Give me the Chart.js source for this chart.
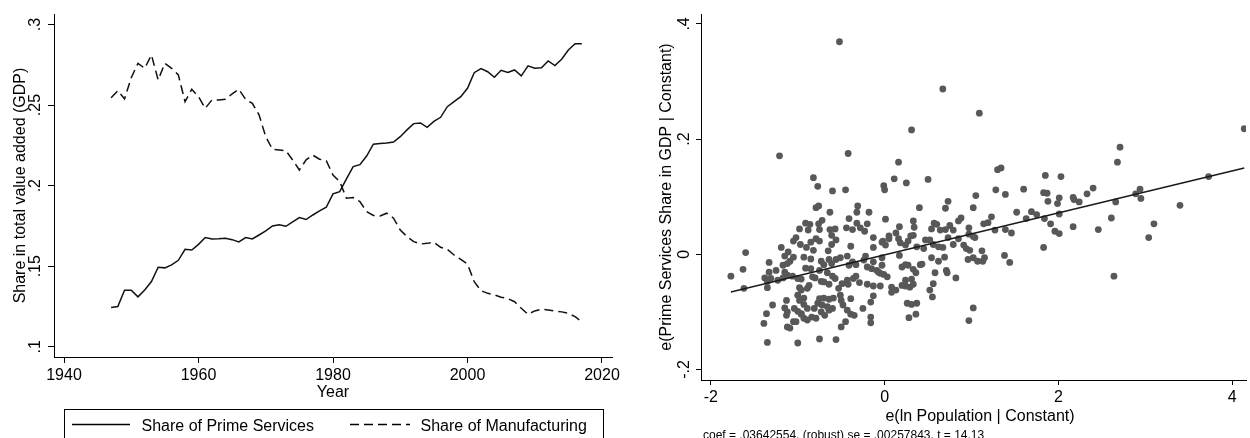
<!doctype html>
<html lang="en">
<head>
<meta charset="UTF-8"/>
<title>Prime services and manufacturing shares</title>
<script src="https://cdn.jsdelivr.net/npm/chart.js@4.4.0/dist/chart.umd.min.js"></script>
<style>
  html, body { margin: 0; padding: 0; background: #fff; }
  #wrap { position: relative; width: 1250px; height: 438px; overflow: hidden; }
  canvas { position: absolute; top: 0; }
  #sharesChart { left: 0; }
  #avplotChart { left: 625px; }
</style>
</head>
<body>
<div id="wrap">
  <canvas id="sharesChart" width="625" height="438"></canvas>
  <canvas id="avplotChart" width="625" height="438"></canvas>
</div>
<script>
// ---- left panel: value added shares over time ----
const years = [
  1947, 1948, 1949, 1950, 1951, 1952, 1953, 1954, 1955, 1956,
  1957, 1958, 1959, 1960, 1961, 1962, 1963, 1964, 1965, 1966,
  1967, 1968, 1969, 1970, 1971, 1972, 1973, 1974, 1975, 1976,
  1977, 1978, 1979, 1980, 1981, 1982, 1983, 1984, 1985, 1986,
  1987, 1988, 1989, 1990, 1991, 1992, 1993, 1994, 1995, 1996,
  1997, 1998, 1999, 2000, 2001, 2002, 2003, 2004, 2005, 2006,
  2007, 2008, 2009, 2010, 2011, 2012, 2013, 2014, 2015, 2016,
  2017
];
const primeShare = [
  0.1244, 0.1250, 0.1351, 0.1351, 0.1310, 0.1353, 0.1405, 0.1494, 0.1490, 0.1508,
  0.1537, 0.1605, 0.1601, 0.1636, 0.1678, 0.1669, 0.1671, 0.1674, 0.1665, 0.1651,
  0.1678, 0.1669, 0.1694, 0.1719, 0.1750, 0.1758, 0.1748, 0.1775, 0.1802, 0.1790,
  0.1818, 0.1843, 0.1866, 0.1949, 0.1963, 0.2042, 0.2118, 0.2130, 0.2184, 0.2257,
  0.2261, 0.2265, 0.2271, 0.2304, 0.2346, 0.2385, 0.2389, 0.2362, 0.2399, 0.2424,
  0.2490, 0.2521, 0.2552, 0.2604, 0.2701, 0.2726, 0.2707, 0.2672, 0.2716, 0.2703,
  0.2718, 0.2681, 0.2743, 0.2728, 0.2732, 0.2774, 0.2745, 0.2784, 0.2842, 0.2881,
  0.2881
];
const manufShare = [
  0.2546, 0.2589, 0.2538, 0.2670, 0.2759, 0.2728, 0.2811, 0.2656, 0.2759, 0.2728,
  0.2687, 0.2521, 0.2598, 0.2552, 0.2480, 0.2532, 0.2532, 0.2536, 0.2569, 0.2598,
  0.2536, 0.2511, 0.2439, 0.2304, 0.2225, 0.2221, 0.2217, 0.2159, 0.2097, 0.2160,
  0.2189, 0.2164, 0.2155, 0.2066, 0.2025, 0.1922, 0.1926, 0.1901, 0.1839, 0.1815,
  0.1812, 0.1829, 0.1798, 0.1725, 0.1684, 0.1653, 0.1638, 0.1642, 0.1649, 0.1618,
  0.1605, 0.1570, 0.1543, 0.1514, 0.1404, 0.1349, 0.1332, 0.1322, 0.1308, 0.1299,
  0.1280, 0.1239, 0.1202, 0.1223, 0.1233, 0.1229, 0.1223, 0.1217, 0.1208, 0.1187,
  0.1156
];
const yearTicks = [1940, 1960, 1980, 2000, 2020];
const yearTickLabels = ['1940', '1960', '1980', '2000', '2020'];
const shareTicks = [0.1, 0.15, 0.2, 0.25, 0.3];
const shareTickLabels = ['.1', '.15', '.2', '.25', '.3'];

// ---- right panel: added-variable plot ----
const lnPopResid = [
  -1.21, -0.42, -0.82, -0.77, -0.60, -0.45, -0.79, -0.76, -0.63, -0.31,
  -0.32, -0.18, -0.41, -0.72, -0.76, -0.91, -0.86, -0.32, -0.20, -0.98,
  -0.88, -0.75, -0.63, -0.57, -0.44, -0.37, -0.28, -0.23, -0.61, -1.02,
  -0.79, -0.75, -0.56, -0.13, -1.05, -0.97, -0.85, -0.61, -0.39, -1.19,
  -0.90, -0.82, -0.65, -0.13, -0.03, -1.60, -1.11, -1.15, -0.93, -1.05,
  -0.43, -0.22,
  0.16, 0.11, 0.25, 0.50, -0.01, 0.00, 1.30, 1.34, 1.85, 1.05,
  1.28, 1.39, 1.60, 1.83, 1.87, 1.88, 1.99, 0.73, 0.70, 0.40,
  1.02, 1.52, 1.69, 1.75, 1.63, 1.84, 1.91, 1.96, 0.01, 0.33,
  0.57, 0.60, 0.88, 0.85, 0.75, 1.23, 1.14, 1.19, 0.17, 0.34,
  0.54, 0.64, 0.70, 0.79, 0.97, 1.27, 1.39, 1.46, 0.13, 0.30,
  0.33, 0.05, 0.97, 1.02, 0.73, 0.47, 0.52, 0.85, 1.04, -0.02,
  0.01, 0.05, 0.16, 0.18, 0.27, 0.24, 0.37, 0.45, 0.56, 0.62,
  0.67, 0.79, 0.91, 0.94, 1.12, 1.83, 0.17, 0.54, 0.69, 1.02,
  1.15, 1.38, 0.98,
  -1.63, -1.77, -1.62, -1.33, -1.09, -0.85, -1.17, -1.12, -1.33, -1.25,
  -1.15, -1.12, -1.38, -1.35, -1.35, -1.23, -1.17, -1.06, -1.00, -0.96,
  -0.91, -0.85, -0.73, -0.70, -0.64, -0.61, -0.75, -0.66, -0.60, -0.57,
  -0.83, -0.80, -0.73, -0.70, -0.64, -0.87, -0.89, -0.98, -0.96, -1.00,
  -0.98, -0.93, -0.93, -0.89, -0.81, -0.75, -0.70, -0.64, -0.59, -0.77,
  -0.72, -0.66, -0.60, -0.73, -0.69, -0.64, -0.84, -0.79, -0.96, -0.93,
  -0.89, -1.13, -1.15, -1.12, -1.13, -1.04, -1.00, -0.96, -1.29, -1.36,
  -1.39, -1.12, -1.09, -1.05, -1.02, -1.35, -1.00, -0.75, -0.56, -0.53,
  -0.51, -0.50, -0.48, -0.49, -0.43, -0.42, -0.39, -0.43, -0.39, -0.35,
  -0.45, -0.50, -0.36, -0.29, -0.20, -0.13, -0.05, -0.13, -0.16, -0.25,
  -0.16, -0.16, -0.56, -0.51, -0.41, -0.37, -0.33, -0.24, -0.20, -0.15,
  -0.09, -0.05, -1.31, -0.13, -0.03, -0.33,
  -0.03, 0.62, 0.96, 1.07, 1.13, 1.44, 0.20, 0.24, 0.27, 0.33,
  0.36, 0.41, 0.43, -0.07, -0.01, 0.03, 0.58, 0.71, 0.72, 0.82,
  0.24, 0.31, 0.33, 0.29, 0.20, 0.24, 0.08, 0.13, 0.08, 0.56,
  0.52, 0.55, 0.26, 0.31, 0.37, 0.28, 0.36, 1.02, 0.97,
  2.17, 2.01, 2.01, 2.46, 2.61, 2.66, 2.64, 3.04, 3.10, 3.40,
  0.67, 1.09, 4.14, 2.71, 2.68, 2.03, 3.73, 2.40, 2.33, 2.89,
  2.94, 2.95, 2.01, 2.17, 2.18, 2.24, -0.52, 0.31
];
const primeResid = [
  0.171, 0.175, 0.133, 0.118, 0.110, 0.112, 0.081, 0.084, 0.073, 0.084,
  0.073, 0.073, 0.062, 0.059, 0.053, 0.054, 0.052, 0.054, 0.053, 0.044,
  0.042, 0.043, 0.043, 0.044, 0.046, 0.043, 0.046, 0.040, 0.033, 0.029,
  0.027, 0.023, 0.025, 0.029, 0.023, 0.017, 0.021, 0.017, 0.014, 0.012,
  0.012, 0.007, 0.006, 0.012, 0.021, 0.003, 0.004, -0.003, -0.005, -0.005,
  -0.003, -0.003,
  0.160, 0.131, 0.124, 0.130, 0.119, 0.112, 0.147, 0.150, 0.137, 0.102,
  0.112, 0.104, 0.113, 0.107, 0.106, 0.092, 0.088, 0.092, 0.080, 0.081,
  0.081, 0.073, 0.074, 0.069, 0.062, 0.062, 0.053, 0.040, 0.061, 0.058,
  0.054, 0.052, 0.063, 0.058, 0.050, 0.065, 0.053, 0.055, 0.048, 0.047,
  0.044, 0.042, 0.043, 0.042, 0.046, 0.042, 0.043, 0.037, 0.037, 0.032,
  0.033, 0.032, 0.035, 0.031, 0.029, 0.025, 0.025, 0.027, 0.029, 0.023,
  0.016, 0.027, 0.027, 0.020, 0.023, 0.016, 0.013, 0.010, 0.017, 0.013,
  0.012, 0.017, 0.016, 0.010, 0.006, 0.012, -0.002, -0.006, -0.005, -0.006,
  -0.006, -0.002, 0.007,
  -0.026, -0.038, -0.059, -0.014, -0.012, -0.008, -0.019, -0.016, -0.031, -0.028,
  -0.031, -0.036, -0.041, -0.047, -0.058, -0.045, -0.041, -0.038, -0.042, -0.043,
  -0.024, -0.025, -0.012, -0.018, -0.009, -0.016, -0.028, -0.032, -0.038, -0.042,
  -0.039, -0.041, -0.047, -0.048, -0.052, -0.054, -0.059, -0.058, -0.062, -0.071,
  -0.080, -0.076, -0.087, -0.094, -0.094, -0.077, -0.076, -0.078, -0.076, -0.085,
  -0.088, -0.091, -0.094, -0.100, -0.106, -0.097, -0.109, -0.111, -0.104, -0.111,
  -0.114, -0.080, -0.093, -0.100, -0.106, -0.094, -0.099, -0.103, -0.088, -0.103,
  -0.120, -0.126, -0.128, -0.117, -0.117, -0.153, -0.154, -0.147, -0.148, -0.059,
  -0.071, -0.080, -0.088, -0.051, -0.045, -0.052, -0.077, -0.097, -0.104, -0.106,
  -0.117, -0.126, -0.042, -0.049, -0.052, -0.055, -0.055, -0.072, -0.083, -0.094,
  -0.109, -0.119, -0.009, -0.006, -0.019, -0.013, -0.018, -0.010, -0.022, -0.025,
  -0.028, -0.033, -0.042, -0.013, -0.019, -0.038,
  -0.006, -0.012, -0.009, -0.012, -0.012, -0.014, -0.022, -0.018, -0.019, -0.026,
  -0.032, -0.018, -0.017, -0.031, -0.035, -0.039, -0.032, -0.028, -0.032, -0.041,
  -0.045, -0.043, -0.052, -0.057, -0.054, -0.055, -0.057, -0.062, -0.066, -0.051,
  -0.062, -0.074, -0.085, -0.087, -0.085, -0.110, -0.104, -0.093, -0.115,
  0.048, 0.070, 0.036, 0.043, 0.063, 0.091, -0.038, 0.029, 0.053, 0.085,
  0.287, 0.245, 0.218, 0.186, 0.160, 0.135, 0.135, 0.115, 0.105, 0.105,
  0.113, 0.097, 0.098, 0.099, 0.095, 0.091, 0.369, 0.216
];
const popTicks = [-2, 0, 2, 4];
const popTickLabels = ['-2', '0', '2', '4'];
const residTicks = [-0.2, 0, 0.2, 0.4];
const residTickLabels = ['-.2', '0', '.2', '.4'];

// regression reported under the plot
const fitCoef = 0.03642554;
const fitIntercept = -0.001;
const fitNote = 'coef = .03642554, (robust) se = .00257843, t = 14.13';

const FONT = '"Liberation Sans", Arial, Helvetica, sans-serif';
const INK = '#000';

// Stata-like text: tick labels (y ones turned 90 degrees), axis titles, legend, note
const stataText = {
    id: 'stataText',
    afterDraw(chart, args, o) {
        const ctx = chart.ctx;
        const xs = chart.scales.x;
        const ys = chart.scales.y;
        ctx.save();
        ctx.fillStyle = INK;
        ctx.font = `16px ${FONT}`;
        ctx.textBaseline = 'alphabetic';
        ctx.textAlign = 'center';

        o.xTicks.forEach((v, i) => {
            ctx.fillText(o.xLabels[i], xs.getPixelForValue(v), o.xTickBase);
        });
        o.yTicks.forEach((v, i) => {
            ctx.save();
            ctx.translate(o.yTickBase, ys.getPixelForValue(v));
            ctx.rotate(-Math.PI / 2);
            ctx.fillText(o.yLabels[i], 0, 0);
            ctx.restore();
        });

        ctx.fillText(o.xTitle, o.xTitleX, o.xTitleBase);
        ctx.save();
        ctx.translate(o.yTitleBase, (chart.chartArea.top + chart.chartArea.bottom) / 2);
        ctx.rotate(-Math.PI / 2);
        ctx.fillText(o.yTitle, 0, 0);
        ctx.restore();

        if (o.legend) {
            const lg = o.legend;
            ctx.strokeStyle = INK;
            ctx.lineWidth = 1;
            ctx.strokeRect(lg.left + 0.5, lg.top + 0.5, lg.width, 40);
            ctx.textAlign = 'left';
            chart.data.datasets.forEach((ds, i) => {
                const it = lg.items[i];
                ctx.beginPath();
                ctx.setLineDash(ds.borderDash || []);
                ctx.lineWidth = ds.borderWidth;
                ctx.moveTo(it.x0, lg.lineY);
                ctx.lineTo(it.x1, lg.lineY);
                ctx.stroke();
                ctx.setLineDash([]);
                ctx.fillText(ds.label, it.tx, lg.textBase);
            });
        }

        if (o.note) {
            ctx.font = `12px ${FONT}`;
            ctx.textAlign = 'left';
            ctx.fillText(o.note, o.noteX, o.noteBase);
        }
        ctx.restore();
    }
};

function axisStyle(tickLen) {
    return {
        grid: {drawOnChartArea: false, drawTicks: true, tickLength: tickLen, tickColor: INK, tickWidth: 1},
        border: {display: true, color: INK, width: 1},
        ticks: {display: false}
    };
}

// left: shares of value added
new Chart(document.getElementById('sharesChart'), {
    type: 'line',
    data: {
        datasets: [{
            label: 'Share of Prime Services',
            data: years.map((yr, i) => ({x: yr, y: primeShare[i]})),
            borderColor: '#111',
            borderWidth: 1.5,
            pointRadius: 0,
            tension: 0
        }, {
            label: 'Share of Manufacturing',
            data: years.map((yr, i) => ({x: yr, y: manufShare[i]})),
            borderColor: '#111',
            borderWidth: 1.5,
            borderDash: [9, 5],
            pointRadius: 0,
            tension: 0
        }]
    },
    plugins: [stataText],
    options: {
        responsive: false,
        animation: false,
        layout: {padding: {top: 14, right: 13, left: 0, bottom: 0}},
        plugins: {
            legend: {display: false},
            tooltip: {enabled: false},
            stataText: {
                xTicks: yearTicks, xLabels: yearTickLabels, xTickBase: 380,
                yTicks: shareTicks, yLabels: shareTickLabels, yTickBase: 40,
                xTitle: 'Year', xTitleX: 333, xTitleBase: 397,
                yTitle: 'Share in total value added (GDP)', yTitleBase: 24.5,
                legend: {
                    left: 64, top: 409, width: 539, lineY: 424.5, textBase: 430.5,
                    items: [{x0: 72, x1: 130, tx: 141.5}, {x0: 350, x1: 410, tx: 420.5}]
                }
            }
        },
        scales: {
            x: Object.assign(axisStyle(6), {
                type: 'linear', min: 1938.51, max: 2021.49,
                afterBuildTicks: s => { s.ticks = yearTicks.map(v => ({value: v})); },
                afterFit: s => { s.height = 81; }
            }),
            y: Object.assign(axisStyle(6), {
                type: 'linear', min: 0.0937, max: 0.3065,
                afterBuildTicks: s => { s.ticks = shareTicks.map(v => ({value: v})); },
                afterFit: s => { s.width = 54; }
            })
        }
    }
});

// right: added-variable plot with fitted line
const xLo = Math.min(...lnPopResid);
const xHi = Math.max(...lnPopResid);

new Chart(document.getElementById('avplotChart'), {
    type: 'scatter',
    data: {
        datasets: [{
            type: 'line',
            data: [xLo, xHi].map(x => ({x: x, y: fitIntercept + fitCoef * x})),
            borderColor: '#1a1a1a',
            borderWidth: 1.4,
            pointRadius: 0
        }, {
            data: lnPopResid.map((x, i) => ({x: x, y: primeResid[i]})),
            backgroundColor: '#585858',
            borderWidth: 0,
            pointRadius: 3.4
        }]
    },
    plugins: [stataText],
    options: {
        responsive: false,
        animation: false,
        layout: {padding: {top: 14, right: 0, left: 0, bottom: 0}},
        plugins: {
            legend: {display: false},
            tooltip: {enabled: false},
            stataText: {
                xTicks: popTicks, xLabels: popTickLabels, xTickBase: 402,
                yTicks: residTicks, yLabels: residTickLabels, yTickBase: 64,
                xTitle: 'e(ln Population | Constant)', xTitleX: 355, xTitleBase: 420.5,
                yTitle: 'e(Prime Services Share in GDP | Constant)', yTitleBase: 46,
                note: fitNote, noteX: 78, noteBase: 439
            }
        },
        scales: {
            x: Object.assign(axisStyle(5), {
                type: 'linear', min: -2.114, max: 4.16,
                afterBuildTicks: s => { s.ticks = popTicks.map(v => ({value: v})); },
                afterFit: s => { s.height = 58; }
            }),
            y: Object.assign(axisStyle(5), {
                type: 'linear', min: -0.2182, max: 0.4172,
                afterBuildTicks: s => { s.ticks = residTicks.map(v => ({value: v})); },
                afterFit: s => { s.width = 76; }
            })
        }
    }
});
</script>
</body>
</html>
